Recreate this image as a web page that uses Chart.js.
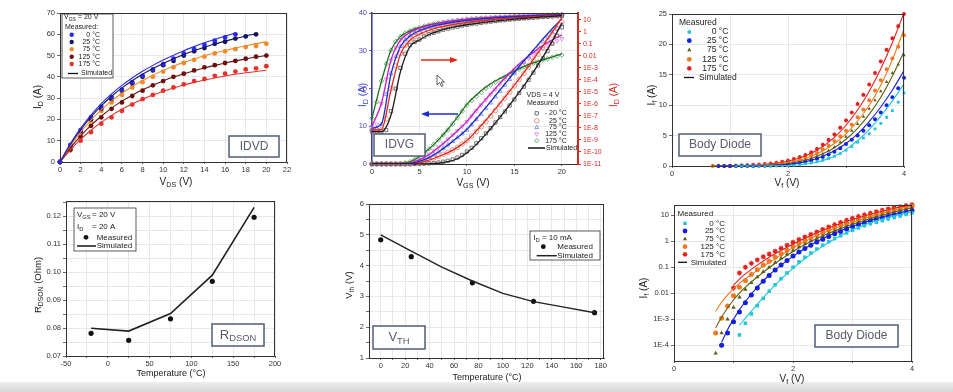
<!DOCTYPE html>
<html>
<head>
<meta charset="utf-8">
<script src="https://cdn.jsdelivr.net/npm/chart.js@4.4.0/dist/chart.umd.min.js"></script>
<style>
  body { margin: 0; width: 953px; height: 392px; background: #fff; position: relative; overflow: hidden; }
  canvas { position: absolute; }
  #band { position: absolute; left: 0; top: 382px; width: 953px; height: 10px; background: linear-gradient(#eeeeee, #d6d6d6); }
</style>
</head>
<body>
<div id="band"></div>
<script>
// ---------- IDVD ----------
const idvdVds = [0,1,2,3,4,5,6,7,8,9,10,11,12,13,14,15,16,17,18,19,20];
const idvdTemps = ['0 °C', '25 °C', '75 °C', '125 °C', '175 °C'];
const idvdMeas0   = [0,8,15,21,26,30.5,34,37.5,40.5,43.5,46,48.5,51,53,55,57,58.5,60,null,null,null];
const idvdMeas25  = [0,7.5,14.5,20,25,29.5,33.5,37,40,43,45.5,47.5,50,52,53.5,55.5,56.5,58,59,60,null];
const idvdMeas75  = [0,7,13.5,19,24,28,31.5,35,37.5,40,42.5,44.5,46.5,48,49.5,51,52,53,54,54.5,55.5];
const idvdMeas125 = [0,6,12,17,21,25,28,31,33.5,36,38,40,41.5,43,44.5,45.5,46.5,47.5,48.5,49.5,50];
const idvdMeas175 = [0,5.5,10,14,18,21,24,27,29.5,31.5,33.5,35,36.5,38,39,40.5,41.5,42.5,43.5,44,45];
const idvdSim0   = [0,8.6,15.8,22.0,27.4,32.0,36.0,39.5,42.6,45.4,47.9,50.2,52.3,54.2,56.0,57.6,59.2,60.6,null,null,null];
const idvdSim25  = [0,8.2,15.2,21.2,26.4,30.9,34.8,38.2,41.2,43.9,46.3,48.5,50.5,52.3,53.9,55.4,56.8,58.0,59.2,60.2,null];
const idvdSim75  = [0,7.6,14.1,19.7,24.5,28.7,32.3,35.5,38.3,40.8,43.0,45.0,46.8,48.4,49.9,51.2,52.4,53.5,54.6,55.6,56.5];
const idvdSim125 = [0,6.6,12.3,17.2,21.5,25.3,28.6,31.4,33.9,36.1,38.1,39.9,41.5,42.9,44.2,45.4,46.5,47.5,48.4,49.3,50.1];
const idvdSim175 = [0,5.7,10.6,14.9,18.6,21.9,24.8,27.3,29.5,31.5,33.2,34.8,36.2,37.4,38.5,39.5,40.4,41.2,41.9,42.5,43.1];

// ---------- IDVG ----------
const idvgTemps = ['- 20 °C', '25 °C', '75 °C', '125 °C', '175 °C'];
const idvgVgsMeas = [0,0.5,1,1.5,2,2.5,3,3.5,4,4.5,5,5.5,6,6.5,7,7.5,8,8.5,9,9.5,10,10.5,11,11.5,12,12.5,13,13.5,14,14.5,15,15.5,16,16.5,17,17.5,18,18.5,19,19.5,20];
const idvgVgsSim = [0,1,2,3,4,5,6,7,8,9,10,11,12,13,14,15,16,17,18,19,20];
// linear (left axis, A)
const idvgLinM20  = [0,0,0,0,0,0,0,0,0,0.02,0.05,0.1,0.15,0.25,0.4,0.6,0.85,1.2,1.7,2.4,3.3,4.3,5.5,6.8,8.1,9.5,11.0,12.4,13.9,15.5,17.1,18.8,20.5,22.3,24.2,26.1,28.0,29.9,31.9,34.0,36.2];
const idvgLin25   = [0,0,0,0,0,0,0,0,0,0.1,0.4,0.7,1.1,1.6,2.1,2.6,3.1,3.7,4.4,5.3,6.2,7.4,8.6,9.9,11.2,12.7,14.2,15.8,17.4,19.0,20.7,22.4,24.0,25.7,27.4,29.1,30.8,32.5,34.2,35.9,37.6];
const idvgLin75   = [0,0,0,0,0,0,0,0.05,0.15,0.4,0.8,1.3,1.8,2.5,3.3,4.2,5.1,6.0,7.0,8.0,9.0,10.4,11.8,13.2,14.7,16.2,17.8,19.3,20.9,22.4,24.0,25.5,27.0,28.4,29.8,31.1,32.4,33.6,34.8,35.9,37.0];
const idvgLin125  = [0,0,0,0,0,0,0,0.1,0.3,0.7,1.2,1.9,2.6,3.5,4.5,5.5,6.6,7.7,8.8,10.0,11.2,12.7,14.1,15.6,17.0,18.4,19.8,21.2,22.5,23.7,24.9,26.0,27.0,28.0,28.9,29.8,30.6,31.3,32.0,32.6,33.2];
const idvgLin175  = [0,0,0,0,0,0,0.1,0.3,0.6,1.2,2.0,3.0,4.0,5.2,6.4,7.7,9.0,10.6,12.3,14.0,15.6,16.8,17.9,19.0,20.1,20.9,21.7,22.4,23.1,23.8,24.4,25.1,25.7,26.2,26.7,27.1,27.5,27.9,28.3,28.6,28.9];
const idvgLinSimM20 = [0,0,0,0,0,0,0.05,0.2,0.6,1.4,3.0,5.2,7.9,10.9,14.0,17.3,20.7,24.4,28.3,32.6,37.3];
const idvgLinSim25  = [0,0,0,0,0,0.3,1.0,2.0,3.0,4.4,6.2,8.8,11.6,14.6,17.7,20.9,24.2,27.7,31.3,35.0,38.8];
const idvgLinSim75  = [0,0,0,0,0.1,0.7,1.7,3.2,5.0,7.0,9.2,12.0,15.0,18.1,21.2,24.3,27.3,30.2,33.1,35.9,38.5];
const idvgLinSim125 = [0,0,0,0,0.2,1.1,2.5,4.4,6.5,8.8,11.3,14.3,17.2,20.0,22.8,25.3,27.6,29.6,31.4,32.9,34.2];
const idvgLinSim175 = [0,0,0,0.1,0.6,2.0,4.0,6.4,9.2,12.4,15.8,18.3,20.4,22.0,23.3,24.6,25.8,26.8,27.6,28.4,29.2];
// logarithmic (right axis, A)
const idvgLogM20 = [5.0e-9,5.0e-9,5.0e-9,6.7e-9,2.5e-7,1.9e-5,1.0e-3,0.015,0.077,0.148,0.229,0.407,0.628,0.84,1.12,1.50,1.86,2.31,2.67,3.31,3.83,4.43,4.93,5.69,6.35,7.08,7.89,8.79,9.44,10.5,11.3,12.2,13.1,14.1,15.1,16.3,17.2,18.2,19.3,20.5,21.7];
const idvgLog25  = [6.7e-9,6.7e-9,7.2e-9,5.8e-8,1.9e-5,1.45e-3,0.0157,0.077,0.212,0.407,0.676,0.97,1.39,1.86,2.31,2.86,3.56,4.11,4.75,5.50,6.12,6.82,7.60,8.47,9.12,9.79,10.5,11.3,12.2,13.1,14.1,14.9,15.8,16.7,17.7,18.8,19.7,20.8,21.7,22.6,23.7];
const idvgLog75  = [9.6e-9,9.6e-9,2.0e-8,6.4e-6,3.4e-4,8.8e-3,0.062,0.212,0.471,0.84,1.29,1.86,2.48,3.08,3.83,4.58,5.50,6.35,7.33,8.17,9.12,9.79,10.5,11.3,12.2,13.1,13.9,14.7,15.6,16.5,17.5,18.2,19.1,19.9,20.8,21.7,22.5,23.3,24.2,25.1,26.0];
const idvgLog125 = [1.4e-8,2.0e-8,1.05e-6,1.16e-4,4.3e-3,0.047,0.198,0.471,0.90,1.39,2.0,2.67,3.44,4.27,5.11,6.12,7.08,8.17,9.12,10.2,11.3,12.2,13.1,14.1,14.9,15.8,16.7,17.5,18.2,19.1,19.9,20.6,21.4,22.2,23.0,23.7,24.4,25.1,25.8,26.6,27.4];
const idvgLog175 = [6.3e-8,1.5e-6,8.1e-5,2.1e-3,0.030,0.159,0.407,0.78,1.21,1.73,2.31,3.08,3.83,4.58,5.50,6.35,7.33,8.17,9.12,10.2,11.3,12.2,13.1,13.9,14.7,15.6,16.5,17.2,18.0,18.8,19.6,20.5,21.4,22.2,23.0,23.8,24.7,25.4,26.2,26.9,27.7];
const idvgLogSimM20 = [5.0e-9,5.0e-9,1.2e-7,5.0e-4,0.06,0.21,0.6,1.15,1.9,2.8,3.9,5.0,6.4,7.9,9.5,11.4,13.3,15.3,17.4,19.5,21.9];
const idvgLogSim25  = [6.7e-9,7.5e-9,1.5e-5,0.014,0.2,0.65,1.35,2.3,3.5,4.7,6.1,7.6,9.2,10.9,12.6,14.4,16.2,18.0,19.8,21.6,23.5];
const idvgLogSim75  = [9.6e-9,2.2e-8,3.0e-4,0.06,0.45,1.25,2.4,3.8,5.4,7.2,9.0,10.9,12.7,14.6,16.4,18.2,20.0,21.8,23.5,25.1,26.6];
const idvgLogSim125 = [1.4e-8,1.2e-6,4.5e-3,0.2,0.9,2.0,3.4,5.0,6.9,8.9,10.9,12.8,14.7,16.5,18.2,19.9,21.5,23.0,24.5,26.0,27.4];
const idvgLogSim175 = [6.3e-8,8e-5,0.03,0.41,1.2,2.3,3.8,5.4,7.2,9.1,11.1,13.0,14.8,16.5,18.1,19.7,21.3,22.8,24.4,25.9,27.5];
const idvgLogTicks  = [1e-11,1e-10,1e-9,1e-8,1e-7,1e-6,1e-5,1e-4,1e-3,0.01,0.1,1,10];
const idvgLogLabels = ['1E-11','1E-10','1E-9','1E-8','1E-7','1E-6','1E-5','1E-4','1E-3','0.01','0.1','1','10'];

// ---------- Body diode (same data on linear and log plots) ----------
const diodeTemps = ['0 °C', '25 °C', '75 °C', '125 °C', '175 °C'];
const diodeVf = [0.7,0.8,0.9,1.0,1.1,1.2,1.3,1.4,1.5,1.6,1.7,1.8,1.9,2.0,2.1,2.2,2.3,2.4,2.5,2.6,2.7,2.8,2.9,3.0,3.1,3.2,3.3,3.4,3.5,3.6,3.7,3.8,3.9,4.0];
const diodeMeas0   = [null,null,null,null,2.5e-4,7e-4,1.6e-3,3.3e-3,6.3e-3,0.012,0.021,0.036,0.06,0.1,0.16,0.24,0.35,0.5,0.7,0.95,1.25,1.6,2.05,2.6,3.2,3.9,4.6,5.3,6.1,7.0,8.0,9.1,10.5,12.0];
const diodeMeas25  = [null,1e-4,3e-4,8e-4,1.9e-3,4.3e-3,8.5e-3,0.016,0.029,0.048,0.078,0.12,0.18,0.27,0.38,0.52,0.7,0.92,1.18,1.5,1.9,2.35,2.9,3.6,4.3,5.0,5.8,6.7,7.7,8.8,10.0,11.3,12.8,14.5];
const diodeMeas75  = [5e-5,3e-4,1e-3,2.8e-3,7e-3,0.014,0.025,0.042,0.067,0.1,0.15,0.22,0.31,0.44,0.59,0.78,1.0,1.27,1.6,2.0,2.5,3.1,3.9,4.8,5.8,6.9,8.1,9.4,10.8,12.3,13.8,15.3,16.7,18.2];
const diodeMeas125 = [3e-4,1.1e-3,3.2e-3,8e-3,0.017,0.031,0.052,0.08,0.12,0.17,0.24,0.33,0.45,0.62,0.82,1.06,1.36,1.72,2.15,2.7,3.35,4.1,4.9,5.8,6.8,8.0,9.3,10.8,12.4,14.1,15.9,17.7,19.6,21.5];
const diodeMeas175 = [null,null,null,0.016,0.06,0.1,0.14,0.19,0.25,0.32,0.41,0.53,0.7,0.9,1.15,1.45,1.8,2.25,2.8,3.5,4.3,5.2,6.3,7.5,8.8,10.2,11.7,13.4,15.3,17.2,19.1,21.0,23.0,25.0];
const diodeVfSim = [0.7,0.8,0.9,1.0,1.1,1.2,1.4,1.6,1.8,2.0,2.2,2.4,2.6,2.8,3.0,3.2,3.4,3.6,3.8,4.0];
const diodeSim0   = [null,null,null,null,6e-4,1.1e-3,3.8e-3,0.012,0.035,0.09,0.21,0.45,0.88,1.6,2.7,4.2,6.0,8.2,10.7,13.5];
const diodeSim25  = [null,1.3e-4,4e-4,1e-3,2.3e-3,4.8e-3,0.017,0.05,0.12,0.26,0.52,0.95,1.6,2.5,3.7,5.3,7.3,9.7,12.5,15.7];
const diodeSim75  = [4.7e-4,1.2e-3,2.7e-3,5.5e-3,0.01,0.017,0.042,0.095,0.2,0.4,0.74,1.25,2.0,3.0,4.4,6.2,8.5,11.3,14.8,18.8];
const diodeSim125 = [2e-3,4.5e-3,8.5e-3,0.015,0.024,0.036,0.075,0.15,0.29,0.55,0.97,1.6,2.5,3.7,5.3,7.4,10.0,13.3,17.5,22.5];
const diodeSim175 = [null,null,null,0.02,0.035,0.055,0.12,0.24,0.44,0.78,1.3,2.1,3.2,4.7,6.7,9.2,12.3,16.0,20.3,25.2];
const diodeLogTicks  = [1e-4,1e-3,0.01,0.1,1,10];
const diodeLogLabels = ['1E-4','1E-3','0.01','0.1','1','10'];

// ---------- RDSON / VTH ----------
const rdsonTemp = [-20, 25, 75, 125, 175];
const rdsonMeas = [0.0781, 0.0756, 0.0833, 0.0967, 0.1196];
const rdsonSim  = [0.0799, 0.0789, 0.0852, 0.0989, 0.1231];
const vthTemp = [0, 25, 75, 125, 175];
const vthMeas = [4.84, 4.29, 3.44, 2.84, 2.47];
const vthSimTemp = [0, 25, 50, 75, 100, 125, 150, 175];
const vthSim = [5.0, 4.47, 3.95, 3.5, 3.1, 2.83, 2.65, 2.47];

// ---------- styling ----------
const FONT = "'Liberation Sans', Arial, sans-serif";
const AX_W = 44, AX_H = 28, PAD_T = 8, PAD_R = 10;
const idvdColors = ['#2a2ae2', '#15155e', '#f28a2a', '#6a1010', '#e5322b'];
const idvgLine = ['#1b1b1b', '#e0281c', '#1c2ccc', '#c21ec2', '#1f6e22'];
const idvgMark = ['#555555', '#f07a6a', '#6e7ee0', '#e07ae0', '#4c9a50'];
const idvgStyle = ['rect', 'circle', 'triangle', 'triangle', 'rectRot'];
const idvgRot = [0, 0, 0, 180, 0];
const diodeColors = ['#22c6dc', '#1420dc', '#5e5e12', '#f07820', '#e3201e'];
const diodeStyle = ['rect', 'circle', 'triangle', 'circle', 'star'];
Chart.defaults.font.family = FONT;

function drawRich(ctx, str, x, y, size, align, color, rot) {
  const parts = [];
  str.split(/(_\{[^}]*\})/).forEach(s => {
    if (!s) return;
    if (s.startsWith('_{')) parts.push({ t: s.slice(2, -1), sub: true });
    else parts.push({ t: s, sub: false });
  });
  ctx.save();
  ctx.translate(x, y);
  if (rot) ctx.rotate(rot);
  ctx.fillStyle = color;
  ctx.textBaseline = 'middle';
  ctx.textAlign = 'left';
  let w = 0;
  parts.forEach(p => {
    p.size = p.sub ? size * 0.72 : size;
    ctx.font = p.size + 'px ' + FONT;
    p.w = ctx.measureText(p.t).width;
    w += p.w;
  });
  let sx = align === 'center' ? -w / 2 : (align === 'right' ? -w : 0);
  parts.forEach(p => {
    ctx.font = p.size + 'px ' + FONT;
    ctx.fillText(p.t, sx, p.sub ? size * 0.3 : 0);
    sx += p.w;
  });
  ctx.restore();
}

const decoPlugin = {
  id: 'deco',
  afterDraw(chart, args, o) {
    const ctx = chart.ctx, a = chart.chartArea;
    const X = v => v - o.ox, Y = v => v - o.oy;
    ctx.save();
    ctx.strokeStyle = '#333';
    ctx.lineWidth = 1;
    ctx.beginPath();
    ctx.moveTo(a.left, a.top + 0.5); ctx.lineTo(a.right, a.top + 0.5);
    if (!o.noRight) { ctx.moveTo(a.right - 0.5, a.top); ctx.lineTo(a.right - 0.5, a.bottom); }
    ctx.stroke();
    (o.boxes || []).forEach(b => {
      ctx.fillStyle = '#fff';
      ctx.fillRect(X(b.x1), Y(b.y1), b.x2 - b.x1, b.y2 - b.y1);
      ctx.strokeStyle = b.stroke; ctx.lineWidth = b.lw;
      ctx.strokeRect(X(b.x1), Y(b.y1), b.x2 - b.x1, b.y2 - b.y1);
    });
    (o.lines || []).forEach(l => {
      ctx.strokeStyle = l.color; ctx.fillStyle = l.color; ctx.lineWidth = l.lw;
      ctx.beginPath(); ctx.moveTo(X(l.x1), Y(l.y1)); ctx.lineTo(X(l.x2), Y(l.y2)); ctx.stroke();
      if (l.head) {
        const ang = Math.atan2(l.y2 - l.y1, l.x2 - l.x1), hx = X(l.x2), hy = Y(l.y2);
        const c = Math.cos(ang), s = Math.sin(ang);
        ctx.beginPath();
        ctx.moveTo(hx + 2 * c, hy + 2 * s);
        ctx.lineTo(hx - 6 * c + 3 * s, hy - 6 * s - 3 * c);
        ctx.lineTo(hx - 6 * c - 3 * s, hy - 6 * s + 3 * c);
        ctx.closePath(); ctx.fill();
      }
    });
    (o.polys || []).forEach(p => {
      ctx.beginPath();
      p.pts.forEach((q, i) => i ? ctx.lineTo(X(q[0]), Y(q[1])) : ctx.moveTo(X(q[0]), Y(q[1])));
      ctx.closePath();
      ctx.fillStyle = p.fill; ctx.fill();
      ctx.strokeStyle = p.stroke; ctx.lineWidth = 0.8; ctx.stroke();
    });
    (o.marks || []).forEach(m => {
      ctx.fillStyle = m.fill; ctx.strokeStyle = m.color; ctx.lineWidth = m.bw;
      Chart.helpers.drawPoint(ctx, { pointStyle: m.style, radius: m.r, rotation: m.rot || 0, borderWidth: m.bw }, X(m.x), Y(m.y));
    });
    (o.texts || []).forEach(t => drawRich(ctx, t.t, X(t.x), Y(t.y), t.size, t.align || 'left', t.color || '#222', t.rot || 0));
    ctx.restore();
  }
};

function panel(L, T, R, B, rightAxis) {
  const c = document.createElement('canvas');
  const extra = rightAxis ? 45 : PAD_R;
  c.width = R - L + AX_W + extra;
  c.height = B - T + PAD_T + AX_H;
  c.style.left = (L - AX_W) + 'px';
  c.style.top = (T - PAD_T) + 'px';
  document.body.appendChild(c);
  return { canvas: c, ox: L - AX_W, oy: T - PAD_T, padR: rightAxis ? 0 : PAD_R };
}

function fmtEvery(n, dec) {
  return v => {
    const k = v / n;
    if (Math.abs(k - Math.round(k)) > 1e-6) return '';
    return dec === undefined ? String(Math.round(v * 1000) / 1000) : v.toFixed(dec);
  };
}

function axis(pos, min, max, step, fmt, more) {
  const isX = pos === 'bottom';
  const s = {
    type: 'linear', position: pos, min: min, max: max,
    ticks: { stepSize: step, includeBounds: false, autoSkip: false, maxRotation: 0, minRotation: 0, padding: isX ? 1 : 2,
             color: '#333', font: { family: FONT, size: 7.5 }, callback: fmt },
    grid: { color: '#e2e2e2', lineWidth: 0.8, tickLength: isX ? 2 : 3, tickColor: '#444' },
    border: { color: '#333', width: 1 },
    afterFit: isX ? function (sc) { sc.height = AX_H; } : function (sc) { sc.width = AX_W; }
  };
  if (more) more(s);
  return s;
}

function logAxis(pos, min, max, vals, labels, more) {
  const s = axis(pos, min, max, undefined, (v, i) => labels[i]);
  s.type = 'logarithmic';
  s.afterBuildTicks = sc => { sc.ticks = vals.map(v => ({ value: v })); };
  if (more) more(s);
  return s;
}

function pts(xs, ys) {
  const out = [];
  for (let i = 0; i < xs.length; i++) if (ys[i] !== null) out.push({ x: xs[i], y: ys[i] });
  return out;
}
function markSet(xs, ys, o) {
  return { data: pts(xs, ys), showLine: false, order: 2, clip: 4,
           pointStyle: o.style || 'circle', pointRadius: o.r, pointRotation: o.rot || 0,
           pointBackgroundColor: o.fill, pointBorderColor: o.color, pointBorderWidth: o.bw || 0,
           yAxisID: o.axis || 'y' };
}
function lineSet(xs, ys, o) {
  return { data: pts(xs, ys), showLine: true, order: 1, pointRadius: 0, borderColor: o.color,
           borderWidth: o.w || 1, cubicInterpolationMode: o.smooth ? 'monotone' : 'default', tension: 0,
           fill: false, yAxisID: o.axis || 'y' };
}
function mkChart(p, datasets, scales, deco) {
  deco.ox = p.ox; deco.oy = p.oy;
  return new Chart(p.canvas, {
    type: 'scatter',
    data: { datasets: datasets },
    options: {
      responsive: false, animation: false, devicePixelRatio: 1,
      layout: { padding: { top: PAD_T, right: p.padR, left: 0, bottom: 0 } },
      plugins: { legend: { display: false }, tooltip: { enabled: false }, deco: deco },
      scales: scales
    },
    plugins: [decoPlugin]
  });
}
function legendRows(d, names, ys, markX, labelRight, size, mk) {
  names.forEach((n, i) => {
    d.marks.push(Object.assign({ x: markX, y: ys[i] }, mk(i)));
    d.texts.push({ t: n, x: labelRight, y: ys[i], size: size, align: 'right' });
  });
}
const ROT = -Math.PI / 2;
const boxStroke = '#4f5d7a', boxText = '#585d6c';

// ===== 1. IDVD =====
(function () {
  const p = panel(60, 13, 287, 162);
  const meas = [idvdMeas0, idvdMeas25, idvdMeas75, idvdMeas125, idvdMeas175];
  const sims = [idvdSim0, idvdSim25, idvdSim75, idvdSim125, idvdSim175];
  const ds = [];
  meas.forEach((m, i) => ds.push(markSet(idvdVds, m, { r: 2.4, fill: idvdColors[i], color: idvdColors[i] })));
  sims.forEach((s, i) => ds.push(lineSet(idvdVds, s, { color: idvdColors[i], w: 1.1, smooth: true })));
  const d = {
    boxes: [{ x1: 62, y1: 14, x2: 113, y2: 78, stroke: '#333', lw: 0.8 },
            { x1: 229, y1: 136, x2: 279, y2: 157, stroke: boxStroke, lw: 1.5 }],
    lines: [{ x1: 68, y1: 73.5, x2: 78, y2: 73.5, color: '#111', lw: 1.3 }],
    marks: [],
    texts: [
      { t: 'V_{GS} = 20 V', x: 64, y: 17.5, size: 7 },
      { t: 'Measured:', x: 65, y: 27, size: 7 },
      { t: 'Simulated', x: 81, y: 73.5, size: 7 },
      { t: 'IDVD', x: 254, y: 146.5, size: 12, align: 'center', color: boxText },
      { t: 'V_{DS} (V)', x: 176, y: 182, size: 10, align: 'center' },
      { t: 'I_{D} (A)', x: 38, y: 97, size: 10, align: 'center', rot: ROT }
    ]
  };
  legendRows(d, idvdTemps, [34.7, 42, 49.3, 56.7, 64], 71.7, 100, 7,
    i => ({ style: 'circle', r: 2.2, fill: idvdColors[i], color: idvdColors[i], bw: 0 }));
  mkChart(p, ds, {
    x: axis('bottom', 0, 22, 2, fmtEvery(2)),
    y: axis('left', 0, 70, 10, fmtEvery(10))
  }, d);
})();

// ===== 2. IDVG =====
(function () {
  const p = panel(372, 13, 578, 164, true);
  const lin = [idvgLinM20, idvgLin25, idvgLin75, idvgLin125, idvgLin175];
  const lg = [idvgLogM20, idvgLog25, idvgLog75, idvgLog125, idvgLog175];
  const linS = [idvgLinSimM20, idvgLinSim25, idvgLinSim75, idvgLinSim125, idvgLinSim175];
  const lgS = [idvgLogSimM20, idvgLogSim25, idvgLogSim75, idvgLogSim125, idvgLogSim175];
  const ds = [];
  for (let i = 0; i < 5; i++) {
    const mo = { style: idvgStyle[i], rot: idvgRot[i], r: 2.3, fill: 'rgba(0,0,0,0)', color: idvgMark[i], bw: 0.8 };
    ds.push(markSet(idvgVgsMeas, lin[i], mo));
    ds.push(markSet(idvgVgsMeas, lg[i], Object.assign({ axis: 'y2' }, mo)));
    ds.push(lineSet(idvgVgsSim, linS[i], { color: idvgLine[i], w: 1.3, smooth: true }));
    ds.push(lineSet(idvgVgsSim, lgS[i], { color: idvgLine[i], w: 1.3, smooth: true, axis: 'y2' }));
  }
  const d = {
    noRight: true,
    boxes: [{ x1: 374, y1: 134, x2: 425, y2: 156, stroke: boxStroke, lw: 1.5 }],
    lines: [{ x1: 421, y1: 60, x2: 456, y2: 60, color: '#e0281c', lw: 1.6, head: true },
            { x1: 458, y1: 114, x2: 423, y2: 114, color: '#1c2ccc', lw: 1.6, head: true },
            { x1: 528, y1: 148, x2: 545, y2: 148, color: '#111', lw: 1.5 }],
    polys: [{ pts: [[437, 75], [437, 85], [439.5, 82.5], [441.5, 86.5], [443, 85.8], [441.1, 82], [444.5, 82]], fill: '#fff', stroke: '#333' }],
    marks: [],
    texts: [
      { t: 'VDS = 4 V', x: 526.5, y: 95, size: 7 },
      { t: 'Measured', x: 527, y: 103.3, size: 7 },
      { t: 'Simulated', x: 546, y: 148, size: 7 },
      { t: 'IDVG', x: 399.5, y: 145, size: 12, align: 'center', color: boxText },
      { t: 'V_{GS} (V)', x: 473, y: 183, size: 10, align: 'center' },
      { t: 'I_{D} (A)', x: 363, y: 95, size: 10, align: 'center', rot: ROT, color: '#4040c0' },
      { t: 'I_{D} (A)', x: 614, y: 95, size: 10, align: 'center', rot: ROT, color: '#d42a20' }
    ]
  };
  legendRows(d, idvgTemps, [113.3, 120.7, 127.3, 134, 140.7], 536.7, 566.7, 7,
    i => ({ style: idvgStyle[i], rot: idvgRot[i], r: 2.3, fill: 'rgba(0,0,0,0)', color: idvgMark[i], bw: 0.8 }));
  mkChart(p, ds, {
    x: axis('bottom', 0, 21.7, 5, fmtEvery(5)),
    y: axis('left', 0, 40, 10, fmtEvery(10), s => {
      s.ticks.color = '#4848c0';
      s.border = { color: '#3a3aa0', width: 1.5 };
      s.grid.tickColor = '#3a3aa0';
    }),
    y2: logAxis('right', 1e-11, 37, idvgLogTicks, idvgLogLabels, s => {
      s.ticks.color = '#d42a20';
      s.ticks.font = { family: FONT, size: 7 };
      s.grid = { drawOnChartArea: false, tickLength: 3, tickColor: '#d42a20' };
      s.border = { color: '#d42a20', width: 2 };
      s.afterFit = sc => { sc.width = 45; };
    })
  }, d);
})();

// ===== 3/6. Body diode helpers =====
function diodeSets(r) {
  const meas = [diodeMeas0, diodeMeas25, diodeMeas75, diodeMeas125, diodeMeas175];
  const sims = [diodeSim0, diodeSim25, diodeSim75, diodeSim125, diodeSim175];
  const ds = [];
  meas.forEach((m, i) => ds.push(markSet(diodeVf, m, {
    style: diodeStyle[i], r: r, fill: diodeColors[i], color: diodeColors[i], bw: diodeStyle[i] === 'star' ? 1.2 : 0 })));
  sims.forEach((s, i) => ds.push(lineSet(diodeVfSim, s, { color: diodeColors[i], w: 1.1, smooth: true })));
  return ds;
}
function diodeLegendMark(i) {
  return { style: diodeStyle[i], r: 2.4, fill: diodeColors[i], color: diodeColors[i], bw: diodeStyle[i] === 'star' ? 1.2 : 0 };
}

// ===== 3. Body diode (linear) =====
(function () {
  const p = panel(672, 14, 904, 166);
  const d = {
    boxes: [{ x1: 679, y1: 134, x2: 761, y2: 156, stroke: boxStroke, lw: 1.5 }],
    lines: [{ x1: 684, y1: 77.5, x2: 694, y2: 77.5, color: '#111', lw: 1.3 }],
    marks: [],
    texts: [
      { t: 'Measured', x: 679, y: 22.7, size: 8.5 },
      { t: 'Simulated', x: 699, y: 77.5, size: 8.5 },
      { t: 'Body Diode', x: 720, y: 145, size: 12, align: 'center', color: boxText },
      { t: 'V_{f} (V)', x: 787, y: 183, size: 10, align: 'center' },
      { t: 'I_{f} (A)', x: 652, y: 95, size: 10, align: 'center', rot: ROT }
    ]
  };
  legendRows(d, diodeTemps, [32, 40.7, 50, 59.3, 68.3], 689.3, 728.3, 8.5, diodeLegendMark);
  mkChart(p, diodeSets(2), {
    x: axis('bottom', 0, 4, 1, fmtEvery(2)),
    y: axis('left', 0, 25, 5, fmtEvery(5))
  }, d);
})();

// ===== 4. RDSON =====
(function () {
  const p = panel(66, 201, 275, 356);
  const ds = [
    markSet(rdsonTemp, rdsonMeas, { r: 2.6, fill: '#111', color: '#111' }),
    lineSet(rdsonTemp, rdsonSim, { color: '#222', w: 1.6 })
  ];
  const d = {
    boxes: [{ x1: 74, y1: 208, x2: 136, y2: 251, stroke: '#333', lw: 0.8 },
            { x1: 212, y1: 324, x2: 264, y2: 346, stroke: boxStroke, lw: 1.5 }],
    lines: [{ x1: 77, y1: 246, x2: 96, y2: 246, color: '#222', lw: 1.6 }],
    marks: [{ x: 86, y: 237.3, style: 'circle', r: 2.4, fill: '#111', color: '#111', bw: 0 }],
    texts: [
      { t: 'V_{GS}', x: 77, y: 215, size: 8 }, { t: '= 20 V', x: 92, y: 215, size: 8 },
      { t: 'I_{D}', x: 77, y: 226.7, size: 8 }, { t: '= 20 A', x: 92, y: 226.7, size: 8 },
      { t: 'Measured', x: 96.7, y: 237.3, size: 8 },
      { t: 'Simulated', x: 96.7, y: 246, size: 8 },
      { t: 'R_{DSON}', x: 238, y: 335, size: 13, align: 'center', color: boxText },
      { t: 'Temperature (°C)', x: 171, y: 374, size: 9, align: 'center' },
      { t: 'R_{DSON} (Ohm)', x: 38, y: 285, size: 9.5, align: 'center', rot: ROT }
    ]
  };
  mkChart(p, ds, {
    x: axis('bottom', -50, 200, 25, fmtEvery(50)),
    y: axis('left', 0.07, 0.1254, 0.005, fmtEvery(0.01, 2))
  }, d);
})();

// ===== 5. VTH =====
(function () {
  const p = panel(369, 204, 604, 358);
  const ds = [
    markSet(vthTemp, vthMeas, { r: 2.6, fill: '#111', color: '#111' }),
    lineSet(vthSimTemp, vthSim, { color: '#222', w: 1.4 })
  ];
  const d = {
    boxes: [{ x1: 530, y1: 231, x2: 600, y2: 260, stroke: '#333', lw: 0.8 },
            { x1: 373, y1: 326, x2: 425, y2: 349, stroke: boxStroke, lw: 1.5 }],
    lines: [{ x1: 536.7, y1: 255.7, x2: 556.7, y2: 255.7, color: '#222', lw: 1.5 }],
    marks: [{ x: 543.3, y: 246.7, style: 'circle', r: 2.4, fill: '#111', color: '#111', bw: 0 }],
    texts: [
      { t: 'I_{D} = 10 mA', x: 533.3, y: 237.7, size: 8 },
      { t: 'Measured', x: 557.3, y: 246.7, size: 8 },
      { t: 'Simulated', x: 557.3, y: 255.7, size: 8 },
      { t: 'V_{TH}', x: 399, y: 337.5, size: 13, align: 'center', color: boxText },
      { t: 'Temperature (°C)', x: 487, y: 377.5, size: 9, align: 'center' },
      { t: 'V_{th} (V)', x: 349, y: 285, size: 9.5, align: 'center', rot: ROT }
    ]
  };
  mkChart(p, ds, {
    x: axis('bottom', -9.6, 182.7, 10, fmtEvery(20)),
    y: axis('left', 1, 6, 0.5, fmtEvery(1))
  }, d);
})();

// ===== 6. Body diode (log) =====
(function () {
  const p = panel(674, 205, 912, 361);
  const d = {
    boxes: [{ x1: 815, y1: 325, x2: 898, y2: 347, stroke: boxStroke, lw: 1.5 }],
    lines: [{ x1: 678, y1: 262.3, x2: 687, y2: 262.3, color: '#111', lw: 1.3 }],
    marks: [],
    texts: [
      { t: 'Measured', x: 677.5, y: 213.3, size: 8 },
      { t: 'Simulated', x: 690.7, y: 262.3, size: 8 },
      { t: 'Body Diode', x: 856.5, y: 336, size: 12, align: 'center', color: boxText },
      { t: 'V_{f} (V)', x: 792, y: 379, size: 10, align: 'center' },
      { t: 'I_{f} (A)', x: 644, y: 288, size: 10, align: 'center', rot: ROT }
    ]
  };
  legendRows(d, diodeTemps, [223.3, 231, 239, 246.7, 254.3], 685, 725, 8, diodeLegendMark);
  mkChart(p, diodeSets(2.5), {
    x: axis('bottom', 0, 4, 1, fmtEvery(2)),
    y: logAxis('left', 2.5e-5, 24.3, diodeLogTicks, diodeLogLabels)
  }, d);
})();
</script>
</body>
</html>
